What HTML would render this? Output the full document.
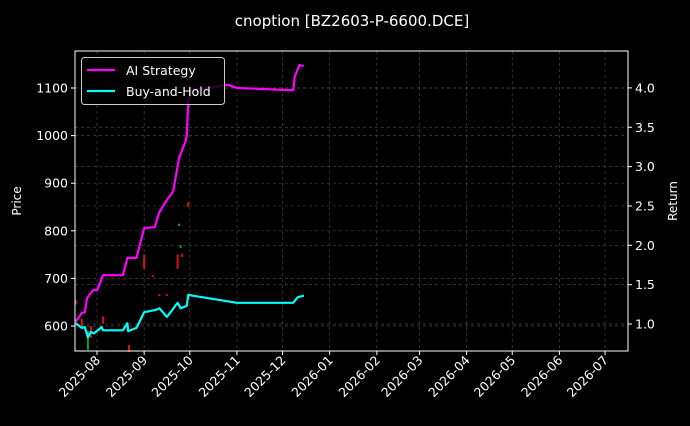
<!DOCTYPE html>
<html><head><meta charset="utf-8"><style>
body{margin:0;background:#000;}
svg text{font-family:"DejaVu Sans","Liberation Sans",sans-serif;fill:#fff;}
</style></head><body>
<svg id="c" width="690" height="421" xmlns="http://www.w3.org/2000/svg">
<rect width="690" height="421" fill="#000"/>
<text x="352" y="26" font-size="15" text-anchor="middle">cnoption [BZ2603-P-6600.DCE]</text>
<text transform="translate(21,201) rotate(-90)" font-size="12" text-anchor="middle">Price</text>
<text transform="translate(677,201) rotate(-90)" font-size="12" text-anchor="middle">Return</text>
<g id="grid"></g><g id="candles"></g><g id="lines"></g><g id="axes"></g>
</svg>
<script>
// days since 2025-08-01
const aiDays=[-14,-10,-8,-6.5,-2.6,0,4,17,20,26,31,38,41,46,50,54,58,59,60,62,86,92,129,130,133,136];
const aiRet=[1.03,1.14,1.15,1.33,1.43,1.43,1.62,1.62,1.84,1.84,2.22,2.23,2.42,2.58,2.68,3.11,3.31,3.38,3.82,3.97,4.04,4.0,3.97,4.14,4.29,4.28];
const bhDays=[-14,-10,-8,-6,-4,-2,3,4,17,20,20.5,26,31,39,41,46,53,55,59,60,92,129,132,136];
const bhRet=[1.01,0.95,0.96,0.83,0.90,0.88,0.96,0.92,0.92,1.01,0.91,0.95,1.15,1.18,1.20,1.09,1.27,1.20,1.23,1.37,1.27,1.27,1.34,1.36];
const cDays=[-14,-10,-6,-4,4,20,21,31,37,41,46,53,54,55,56,60];
const cOpen=[655,615,550,600,620,605,560,750,707,667,667,750,810,764,752,860];
const cClose=[645,600,590,575,605,590,545,720,705,665,665,720,815,770,745,850];
const xTicks=[0,31,61,92,122,153,184,212,243,273,304,334];
const xLabels=['2025-08','2025-09','2025-10','2025-11','2025-12','2026-01','2026-02','2026-03','2026-04','2026-05','2026-06','2026-07'];
const pTicks=[600,700,800,900,1000,1100];
const rTicks=[1.0,1.5,2.0,2.5,3.0,3.5,4.0];
const L=75,R=628,T=51,B=351;
const X=d=>97+d*1.521;
const YP=p=>326-(p-600)*0.476;
const YR=r=>324-(r-1)*78.7;
const NS='http://www.w3.org/2000/svg';
function mk(tag,attrs,parent){const e=document.createElementNS(NS,tag);for(const k in attrs)e.setAttribute(k,attrs[k]);document.getElementById(parent).appendChild(e);return e;}
xTicks.forEach((d,i)=>{
 const x=X(d);
 const g=mk('line',{x1:x,x2:x,y1:T,y2:B,stroke:'#444','stroke-dasharray':'3,3','stroke-width':0.7},'grid');
 
 
 const t=mk('line',{x1:x,x2:x,y1:B,y2:B+4,stroke:'#fff'},'axes');
 
 
 const lb=mk('text',{transform:`translate(${x+4},${B+10}) rotate(-45)`,'font-size':12.5,'text-anchor':'end'},'axes');
 lb.textContent=xLabels[i];
 
 
});
pTicks.forEach(p=>{
 const y=YP(p);
 const g=mk('line',{x1:L,x2:R,y1:y,y2:y,stroke:'#444','stroke-dasharray':'3,3','stroke-width':0.7},'grid');
 
 
 mk('line',{x1:L-4,x2:L,y1:y,y2:y,stroke:'#fff'},'axes');
 const lb=mk('text',{x:L-7,y:y+4.5,'font-size':12.5,'text-anchor':'end'},'axes');
 lb.textContent=p;
 
 
});
rTicks.forEach(r=>{
 const y=YR(r);
 const g=mk('line',{x1:L,x2:R,y1:y,y2:y,stroke:'#444','stroke-dasharray':'3,3','stroke-width':0.7},'grid');
 
 
 mk('line',{x1:R,x2:R+4,y1:y,y2:y,stroke:'#fff'},'axes');
 const lb=mk('text',{x:R+7,y:y+4.5,'font-size':12.5},'axes');
 lb.textContent=r.toFixed(1);
 
 
});
const frame=mk('rect',{x:L,y:T,width:R-L,height:B-T,fill:'none',stroke:'#fff','stroke-width':1},'axes');


cDays.forEach((d,i)=>{
 const up=cClose[i]>=cOpen[i];
 const y1=YP(Math.max(cOpen[i],cClose[i])),y2=YP(Math.min(cOpen[i],cClose[i]));
 const c=mk('rect',{x:X(d)-1,y:y1,width:2,height:Math.max(2,y2-y1),fill:up?'#1a9a1a':'#e01010'},'candles');
 
 
});
function line(days,vals,color,name){
 const pts=days.map((d,i)=>Math.max(L,X(d)).toFixed(1)+','+YR(vals[i]).toFixed(1)).join(' ');
 const p=mk('polyline',{points:pts,fill:'none',stroke:color,'stroke-width':2.2,'stroke-linejoin':'round'},'lines');
 
 
}
line(aiDays,aiRet,'#ff00ff','ai-strategy-line');
line(bhDays,bhRet,'#00ffff','buy-and-hold-line');
</script>
<svg style="position:absolute;left:0;top:0" width="690" height="421">
<rect x="81.5" y="57.5" width="143" height="47" rx="3" fill="#000" fill-opacity="0.8" stroke="#ccc"/>
<line x1="87" x2="115" y1="70" y2="70" stroke="#ff00ff" stroke-width="2.2"/>
<text x="126" y="75" font-size="12.5" fill="#fff" font-family="DejaVu Sans, Liberation Sans, sans-serif">AI Strategy</text>
<line x1="87" x2="115" y1="91" y2="91" stroke="#00ffff" stroke-width="2.2"/>
<text x="126" y="96" font-size="12.5" fill="#fff" font-family="DejaVu Sans, Liberation Sans, sans-serif">Buy-and-Hold</text>
</svg>
</body></html>
